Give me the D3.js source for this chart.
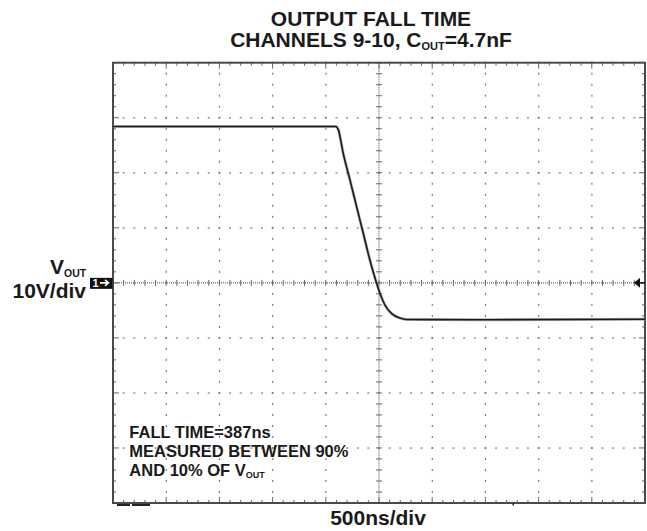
<!DOCTYPE html>
<html>
<head>
<meta charset="utf-8">
<script src="https://cdn.jsdelivr.net/npm/d3@7"></script>
<style>
html,body{margin:0;padding:0;background:#fff;}
svg{display:block;}
text{font-family:Arial,"Liberation Sans",sans-serif;font-weight:bold;fill:#1a1a1a;}
</style>
</head>
<body>
<svg id="chart" width="647" height="531"></svg>
<script>
// ---- data (time in ns relative to screen centre, voltage in V) ----
const timeNs = [-2500, -404, -382, -336, -273, -210, -148, -85, -22, 9, 56, 119, 197, 260, 1000, 2500];
const voltsV = [28.4, 28.4, 27.8, 23.5, 18.7, 13.8, 9.0, 4.1, -0.1, -1.9, -4.05, -5.6, -6.4, -6.65, -6.7, -6.6];
const timeDivTicks = [-2500, -2000, -1500, -1000, -500, 0, 500, 1000, 1500, 2000, 2500];
const voltDivTicks = [-40, -30, -20, -10, 0, 10, 20, 30, 40];
const titleLines = ["OUTPUT FALL TIME", "CHANNELS 9-10, C"];
const noteLines = ["FALL TIME=387ns", "MEASURED BETWEEN 90%", "AND 10% OF V"];
const xLabel = "500ns/div";
const yLabel = "10V/div";

const svg = d3.select("#chart");
const L = 113, R = 645, T = 62.7, B = 503;
const x = d3.scaleLinear().domain([-2500, 2500]).range([L, R]);
const y = d3.scaleLinear().domain([-40, 40]).range([B, T]);

const minorT = d3.range(-2500, 2500.1, 100);
const minorV = d3.range(-40, 40.1, 2);

const g = svg.append("g");

// grid dots on interior major lines
timeDivTicks.filter(t => t !== 0 && t !== -2500 && t !== 2500).forEach(t => {
  minorV.forEach(v => {
    g.append("rect").attr("x", x(t) - 0.5).attr("y", y(v) - 1).attr("width", 1.2).attr("height", 2).attr("fill", "#777");
  });
});
voltDivTicks.filter(v => v !== 0 && v !== -40 && v !== 40).forEach(v => {
  minorT.forEach(t => {
    g.append("rect").attr("x", x(t) - 1).attr("y", y(v) - 0.5).attr("width", 2).attr("height", 1.2).attr("fill", "#777");
  });
});

// centre crosshair
g.append("line").attr("x1", L).attr("x2", R).attr("y1", y(0)).attr("y2", y(0))
  .attr("stroke", "#444").attr("stroke-width", 1).attr("stroke-dasharray", "1,1");
g.append("line").attr("x1", x(0)).attr("x2", x(0)).attr("y1", T).attr("y2", B)
  .attr("stroke", "#444").attr("stroke-width", 1).attr("stroke-dasharray", "1,1");
minorT.forEach(t => {
  g.append("line").attr("x1", x(t)).attr("x2", x(t)).attr("y1", y(0) - 3).attr("y2", y(0) + 3)
    .attr("stroke", "#666").attr("stroke-width", 1);
});
minorV.forEach(v => {
  g.append("line").attr("x1", x(0) - 3).attr("x2", x(0) + 3).attr("y1", y(v)).attr("y2", y(v))
    .attr("stroke", "#666").attr("stroke-width", 1);
});

// border ticks
minorT.forEach(t => {
  const major = timeDivTicks.includes(t);
  const len = major ? 6 : 3;
  g.append("line").attr("x1", x(t)).attr("x2", x(t)).attr("y1", T).attr("y2", T + len).attr("stroke", "#666").attr("stroke-width", 1);
  g.append("line").attr("x1", x(t)).attr("x2", x(t)).attr("y1", B).attr("y2", B - len).attr("stroke", "#666").attr("stroke-width", 1);
});
minorV.forEach(v => {
  const major = voltDivTicks.includes(v);
  const len = major ? 6 : 3;
  g.append("line").attr("x1", L).attr("x2", L + len).attr("y1", y(v)).attr("y2", y(v)).attr("stroke", "#666").attr("stroke-width", 1);
  g.append("line").attr("x1", R).attr("x2", R - len).attr("y1", y(v)).attr("y2", y(v)).attr("stroke", "#666").attr("stroke-width", 1);
});

// border
g.append("rect").attr("x", L).attr("y", T).attr("width", R - L).attr("height", B - T)
  .attr("fill", "none").attr("stroke", "#4a4a4a").attr("stroke-width", 2);

// trace
const line = d3.line().x((d, i) => x(timeNs[i])).y((d, i) => y(voltsV[i])).curve(d3.curveMonotoneX);
g.append("path").datum(timeNs).attr("d", line).attr("fill", "none")
  .attr("stroke", "#888").attr("stroke-width", 3).attr("opacity", 0.6);
g.append("path").datum(timeNs).attr("d", line).attr("fill", "none")
  .attr("stroke", "#1a1a1a").attr("stroke-width", 1.6);

// markers
g.append("rect").attr("x", 90).attr("y", y(0) - 5).attr("width", 22.5).attr("height", 11).attr("fill", "#111");
g.append("text").attr("x", 92.5).attr("y", y(0) + 4.5).attr("font-size", 11).style("fill", "#fff").text("1");
g.append("path").attr("d", `M100,${y(0)}h8 M105,${y(0) - 3}l3.5,3l-3.5,3`).attr("stroke", "#fff").attr("stroke-width", 1.6).attr("fill", "none");
g.append("path").attr("d", `M634,${y(0)}l6,-5v10z`).attr("fill", "#111");
g.append("line").attr("x1", 640).attr("x2", R).attr("y1", y(0)).attr("y2", y(0)).attr("stroke", "#111").attr("stroke-width", 1.5);
g.append("rect").attr("x", 117).attr("y", B + 1).attr("width", 13).attr("height", 2).attr("fill", "#222");
g.append("rect").attr("x", 132).attr("y", B + 1).attr("width", 18).attr("height", 2).attr("fill", "#222");
g.append("rect").attr("x", 512.5).attr("y", B).attr("width", 1.5).attr("height", 2.5).attr("fill", "#222");

// titles
const tx = 371;
svg.append("text").attr("x", tx).attr("y", 26).attr("text-anchor", "middle").attr("font-size", 21).text(titleLines[0]);
const t2 = svg.append("text").attr("x", tx).attr("y", 47.3).attr("text-anchor", "middle").attr("font-size", 21);
t2.append("tspan").text(titleLines[1]);
t2.append("tspan").attr("font-size", 11).attr("dy", 3).text("OUT");
t2.append("tspan").attr("dy", -3).text("=4.7nF");

// axis labels
const vl = svg.append("text").attr("x", 50).attr("y", 274).attr("font-size", 21);
vl.append("tspan").text("V");
vl.append("tspan").attr("font-size", 10.5).attr("dy", 2.5).text("OUT");
svg.append("text").attr("x", 86).attr("y", 297.5).attr("text-anchor", "end").attr("font-size", 21).text(yLabel);
svg.append("text").attr("x", 378).attr("y", 525).attr("text-anchor", "middle").attr("font-size", 21).text(xLabel);

// note
const nb = [438.3, 456.5, 475.5];
noteLines.forEach((s, i) => {
  const t = svg.append("text").attr("x", 129.3).attr("y", nb[i]).attr("font-size", 16.5);
  t.append("tspan").text(s);
  if (i === 2) t.append("tspan").attr("font-size", 9).attr("dy", 2).text("OUT");
});
</script>
</body>
</html>
